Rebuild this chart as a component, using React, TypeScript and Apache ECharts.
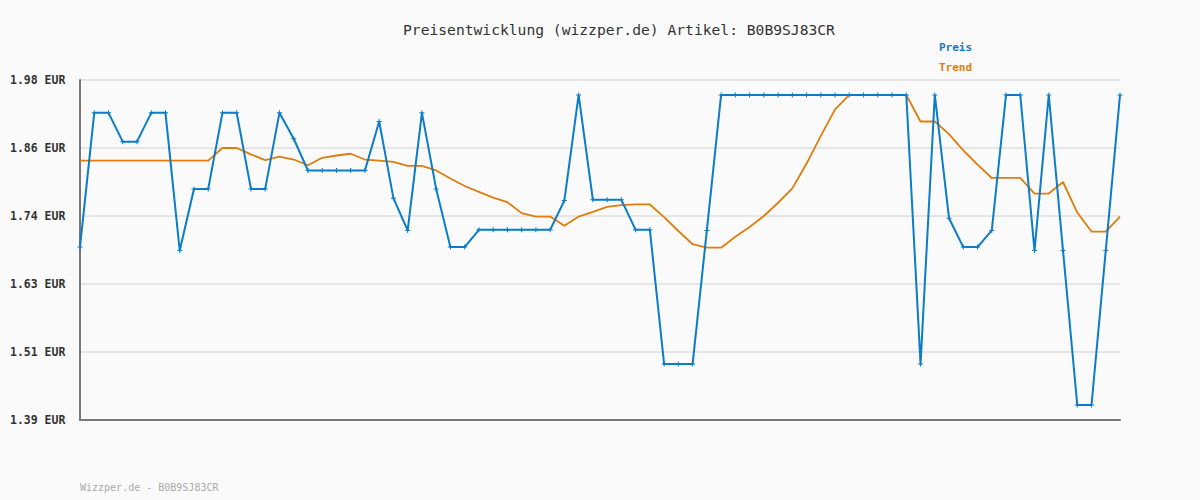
import React, { useEffect, useRef } from "react";
import * as echarts from "echarts";

const titleText = "Preisentwicklung (wizzper.de) Artikel: B0B9SJ83CR";
const footerText = "Wizzper.de - B0B9SJ83CR";
const seriesNames = ["Preis", "Trend"];

const preis = [
  1.69, 1.923, 1.923, 1.873, 1.873, 1.923, 1.923, 1.684, 1.791, 1.791,
  1.923, 1.923, 1.791, 1.791, 1.923, 1.878, 1.823, 1.823, 1.823, 1.823,
  1.823, 1.908, 1.775, 1.719, 1.923, 1.791, 1.69, 1.69, 1.72, 1.72,
  1.72, 1.72, 1.72, 1.72, 1.771, 1.954, 1.772, 1.772, 1.772, 1.72,
  1.72, 1.487, 1.487, 1.487, 1.719, 1.954, 1.954, 1.954, 1.954, 1.954,
  1.954, 1.954, 1.954, 1.954, 1.954, 1.954, 1.954, 1.954, 1.954, 1.487,
  1.954, 1.74, 1.69, 1.69, 1.719, 1.954, 1.954, 1.684, 1.954, 1.684,
  1.416, 1.416, 1.684, 1.954,
];

const trend = [
  1.84, 1.84, 1.84, 1.84, 1.84, 1.84, 1.84, 1.84, 1.84, 1.84,
  1.862, 1.862, 1.851, 1.841, 1.847, 1.842, 1.832, 1.845, 1.849, 1.852,
  1.842, 1.84, 1.838, 1.831, 1.831, 1.823, 1.809, 1.796, 1.786, 1.776,
  1.768, 1.749, 1.743, 1.743, 1.727, 1.743, 1.751, 1.76, 1.763, 1.764,
  1.764, 1.742, 1.718, 1.695, 1.689, 1.689, 1.708, 1.725, 1.744, 1.767,
  1.792, 1.835, 1.883, 1.929, 1.954, 1.954, 1.954, 1.954, 1.954, 1.908,
  1.908, 1.886, 1.858, 1.833, 1.81, 1.81, 1.81, 1.783, 1.783, 1.803,
  1.75, 1.717, 1.717, 1.743,
];

const categories = preis.map((_, i) => String(i + 1));

const yMin = 1.39;
const yMax = 1.98;
const yStep = 0.118;

const BLUE = "#0a7cc8";
const ORANGE = "#e07c0c";
const MONO = "'DejaVu Sans Mono', 'Liberation Mono', monospace";

export default function App() {
  const ref = useRef<HTMLDivElement>(null);
  useEffect(() => {
    if (!ref.current) return;
    const chart = echarts.init(ref.current, null, { renderer: "svg" });
    chart.setOption({
      animation: false,
      backgroundColor: "#fafafa",
      title: {
        text: titleText,
        left: 398,
        top: 17,
        textStyle: { fontFamily: MONO, fontSize: 14.65, fontWeight: "normal", color: "#333" },
      },
      legend: {
        left: 934,
        top: 42,
        orient: "vertical",
        itemGap: 9,
        itemWidth: 0,
        itemHeight: 0,
        icon: "none",
        padding: 0,
        data: [
          { name: seriesNames[0], textStyle: { color: BLUE } },
          { name: seriesNames[1], textStyle: { color: ORANGE } },
        ],
        textStyle: { fontFamily: MONO, fontSize: 11, fontWeight: "bold" },
      },
      graphic: [
        {
          type: "text",
          left: 80,
          top: 482,
          style: { text: footerText, fontFamily: MONO, fontSize: 10, fill: "#aaaaaa" },
        },
      ],
      grid: { left: 80, right: 80, top: 80, bottom: 80, containLabel: false },
      xAxis: {
        type: "category",
        data: categories,
        boundaryGap: false,
        axisLine: { show: true, lineStyle: { color: "#777", width: 2 } },
        axisTick: { show: false },
        axisLabel: { show: false },
        splitLine: { show: false },
      },
      yAxis: {
        type: "value",
        min: yMin,
        max: yMax,
        interval: yStep,
        axisLine: { show: true, lineStyle: { color: "#777", width: 2 } },
        axisTick: { show: false },
        splitLine: { show: true, lineStyle: { color: "#e5e5e5", width: 2 } },
        axisLabel: {
          formatter: (v: number) => v.toFixed(2) + " EUR",
          fontFamily: MONO,
          fontSize: 11.5,
          color: "#333",
          fontWeight: "bold",
          align: "left",
          margin: 70,
        },
      },
      series: [
        {
          name: seriesNames[1],
          type: "line",
          data: trend,
          showSymbol: false,
          symbol: "none",
          lineStyle: { color: ORANGE, width: 1.8 },
          itemStyle: { color: ORANGE },
          z: 2,
        },
        {
          name: seriesNames[0],
          type: "line",
          data: preis,
          symbol: "path://M2,0H3V2H5V3H3V5H2V3H0V2H2Z",
          symbolSize: 5,
          showSymbol: true,
          lineStyle: { color: BLUE, width: 2 },
          itemStyle: { color: BLUE },
          z: 3,
        },
      ],
    });
    return () => chart.dispose();
  }, []);
  return (
    <div
      ref={ref}
      style={{ position: "fixed", left: 0, top: 0, width: 1200, height: 500 }}
    />
  );
}
